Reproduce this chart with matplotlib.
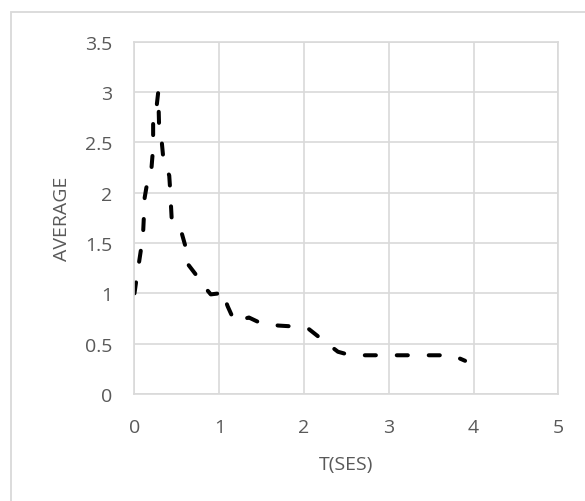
import numpy as np
import matplotlib.pyplot as plt
from matplotlib.patches import Rectangle

# values
t_ses = [0, 0.02, 0.07, 0.10, 0.11, 0.12, 0.14, 0.16, 0.20, 0.22, 0.22, 0.26, 0.28,
         0.29, 0.32, 0.34, 0.38, 0.41, 0.42, 0.44, 0.50, 0.56, 0.60, 0.63, 0.73,
         0.83, 0.90, 1.00, 1.03, 1.10, 1.18, 1.35, 1.50, 1.70, 1.90, 2.05, 2.20,
         2.40, 2.55, 3.00, 3.50, 3.75, 3.90]
average = [1.00, 1.12, 1.40, 1.57, 1.75, 1.95, 2.05, 2.12, 2.24, 2.45, 2.80, 2.85, 3.00,
           2.67, 2.52, 2.34, 2.24, 2.17, 2.04, 1.72, 1.62, 1.59, 1.47, 1.29, 1.18,
           1.06, 0.99, 1.00, 1.03, 0.87, 0.72, 0.76, 0.70, 0.68, 0.67, 0.65, 0.55,
           0.42, 0.385, 0.385, 0.385, 0.385, 0.33]
x_ticks = [0, 1, 2, 3, 4, 5]
y_ticks = [0, 0.5, 1, 1.5, 2, 2.5, 3, 3.5]
y_tick_labels = ['0', '0.5', '1', '1.5', '2', '2.5', '3', '3.5']

grid_color = '#d9d9d9'
text_color = '#595959'
plt.rcParams['font.family'] = ['Open Sans', 'DejaVu Sans']

fig = plt.figure(figsize=(5.85, 5.02), dpi=100)
ax = fig.add_axes([0.2299, 0.2131, 0.7245, 0.7018])

# outer chart border (cut off at right and bottom)
fig.patches.append(Rectangle((11 / 585, -0.1), 1.2, 1 - 13 / 502 + 0.1,
                             transform=fig.transFigure, fill=False,
                             edgecolor=grid_color, linewidth=1.3))

ax.set_xlim(0, 5)
ax.set_ylim(0, 3.5)

# stretch the dash gap a little so the line both starts and ends on a dash
lw = 2.9
dash_on = 2.75
pts = ax.transData.transform(np.column_stack([t_ses, average])) * 72 / fig.dpi
length = np.hypot(*np.diff(pts, axis=0).T).sum()
target = length - dash_on * lw * 0.5
n = max(1, round(target / (8.0 * lw)))
dash_off = target / n / lw - dash_on

ax.plot(t_ses, average, color='black', linewidth=lw,
        linestyle=(0, (dash_on, dash_off)), dash_capstyle='round', solid_capstyle='round')

ax.set_xticks(x_ticks)
ax.set_yticks(y_ticks)
ax.set_yticklabels(y_tick_labels)
ax.grid(True, color=grid_color, linewidth=1.2)
ax.set_axisbelow(True)
for s in ax.spines.values():
    s.set_color(grid_color)
    s.set_linewidth(1.2)
ax.tick_params(length=0, colors=text_color, labelsize=14)
ax.tick_params(axis='x', pad=17)
ax.tick_params(axis='y', pad=16)

ax.set_xlabel('T(SES)', color=text_color, fontsize=14, labelpad=14)
ax.set_ylabel('AVERAGE', color=text_color, fontsize=14, labelpad=10)

fig.savefig('out.png', dpi=100)
